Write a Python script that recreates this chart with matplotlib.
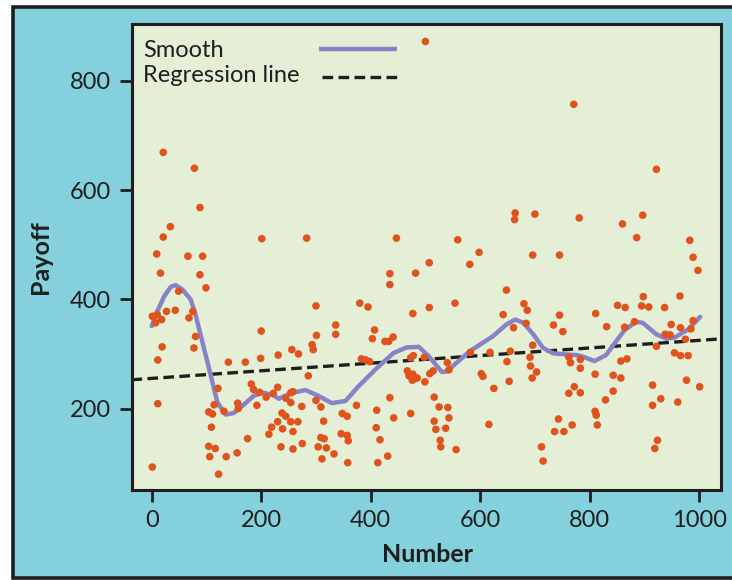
import matplotlib
matplotlib.use("Agg")
import matplotlib.pyplot as plt
from matplotlib.patches import Rectangle
from matplotlib.lines import Line2D
import numpy as np

# ---------------- data ----------------
number = [21, 78, 88, 34, 21, 201, 9, 66, 93, 283, 447, 500, 771, 664, 663, 700, 781, 559, 598, 696,
          745, 922, 897, 860, 886, 983, 989,
          16, 88, 99, 49, 1, 10, 27, 43, 18, 7, 75, 68, 80, 77, 19, 11, 11, 1, 200, 140, 171, 199, 231,
          121, 182, 186, 197, 209, 222, 230, 114, 104, 111, 132, 157, 158, 192, 109, 175, 104, 116, 106, 136,
          156, 122, 219, 214,
          435, 482, 435, 507, 300, 380, 395, 477, 507, 336, 336, 301, 407, 403, 441, 426, 433, 293, 295, 256,
          268, 286, 383, 391, 398, 473, 478, 498, 467, 470, 477, 481, 485, 476, 499, 245, 254, 258, 254, 274,
          300, 309, 238, 245, 230, 254, 267, 239, 258, 314, 348, 357, 374, 346, 357, 359, 309, 315, 236, 258,
          275, 304, 319, 333, 311, 358, 435, 411, 442, 473, 410, 417, 431, 413,
          581, 648, 554, 680, 686, 642, 745, 734, 751, 661, 684, 696, 582, 618, 655, 649, 691, 692, 703, 695,
          540, 543, 508, 514, 602, 605, 625, 653, 762, 772, 762, 765, 516, 525, 541, 543, 516, 519, 537, 527,
          528, 556, 616, 743, 736, 753, 768, 712, 715,
          998, 965, 898, 851, 865, 895, 908, 937, 811, 831, 864, 882, 949, 966, 989, 985, 938, 947, 975, 922,
          955, 966, 980, 857, 868, 783, 783, 810, 843, 857, 783, 843, 829, 915, 930, 915, 977, 1001, 961, 810,
          812, 814, 924, 919]
payoff = [669, 640, 568, 533, 514, 511, 483, 479, 479, 512, 512, 872, 757, 558, 546, 556, 549, 509, 486, 481,
          481, 638, 554, 538, 513, 508, 477,
          448, 445, 421, 415, 369, 372, 378, 380, 363, 357, 378, 366, 332, 311, 313, 289, 209, 93, 342, 285, 285, 292, 298,
          237, 245, 235, 230, 221, 228, 239, 207, 194, 190, 195, 210, 200, 206, 166, 145, 131, 127, 112, 112,
          119, 80, 166, 153,
          447, 448, 427, 467, 388, 393, 386, 374, 385, 353, 336, 334, 344, 328, 331, 323, 323, 317, 308, 308,
          300, 260, 291, 289, 286, 293, 297, 294, 269, 260, 263, 255, 256, 252, 249, 219, 229, 231, 211, 204,
          215, 203, 192, 186, 176, 176, 176, 163, 158, 177, 191, 186, 206, 154, 151, 141, 147, 145, 130, 126,
          136, 130, 128, 117, 108, 101, 220, 197, 183, 191, 165, 143, 113, 101,
          464, 417, 393, 392, 380, 372, 371, 353, 341, 348, 356, 316, 303, 303, 305, 286, 294, 278, 267, 256,
          284, 271, 264, 269, 264, 259, 237, 250, 228, 240, 294, 284, 221, 203, 202, 183, 177, 162, 164, 142,
          130, 125, 171, 181, 158, 158, 170, 130, 104,
          453, 406, 405, 389, 385, 388, 386, 385, 374, 350, 349, 359, 354, 348, 361, 346, 336, 335, 327, 314,
          302, 297, 297, 287, 291, 290, 274, 263, 261, 256, 229, 232, 216, 243, 218, 206, 252, 240, 212, 195,
          188, 170, 142, 127]

smooth_x = [0, 10, 23, 35, 44, 56, 71, 80, 93, 108, 120, 135, 150, 169, 187, 205, 223, 232, 256, 281,
            305, 329, 354, 378, 409, 442, 466, 488, 506, 530, 539, 557, 581, 624, 648, 664, 679, 697, 715, 734,
            758, 776, 785, 809, 830, 846, 864, 885, 897, 922, 940, 955, 980, 1002]
smooth_y = [351, 378, 406, 423, 426, 418, 400, 372, 320, 260, 211, 189, 192, 208, 224, 229, 224, 218, 229, 234,
            223, 210, 214, 241, 272, 302, 312, 313, 296, 267, 268, 284, 305, 333, 354, 363, 357, 336, 311, 301,
            299, 298, 296, 287, 298, 320, 344, 359, 357, 336, 328, 330, 345, 368]

reg_intercept = 255.3
reg_slope = 0.0696

x_ticks = [0, 200, 400, 600, 800, 1000]
y_ticks = [200, 400, 600, 800]
legend_labels = ["Smooth", "Regression line"]
x_label = "Number"
y_label = "Payoff"

# ---------------- styling ----------------
W, H = 732, 580
CYAN = "#84d1dd"
PANEL = "#e4efd6"
DOT = "#e0531d"
SMOOTH = "#8783c6"
INK = "#1e1e1e"
FONT = "Lato"

plt.rcParams["font.family"] = [FONT, "DejaVu Sans"]

fig = plt.figure(figsize=(W / 100, H / 100), dpi=100)
fig.patch.set_facecolor("white")

# outer cyan frame with black border (cut at right edge)
frame = Rectangle((12.5 / W, 2.5 / H), 1.2, (573.5 - 2.5) / H,
                  transform=fig.transFigure, facecolor=CYAN,
                  edgecolor=INK, linewidth=2.6, zorder=-10)
fig.patches.append(frame)

ax = fig.add_axes([131.5 / W, (580 - 490) / H, (721 - 131.5) / W, (490 - 24) / H])
ax.set_zorder(5)
ax.set_facecolor(PANEL)
ax.set_xlim(-37, 1040)
ax.set_ylim(51, 904)

xs = np.array(ax.get_xlim())
ax.plot(xs, reg_intercept + reg_slope * xs, color=INK, lw=2.4, dashes=(3.2, 1.6), zorder=2)
ax.plot(smooth_x, smooth_y, color=SMOOTH, lw=3.2, zorder=3,
        solid_joinstyle="round", solid_capstyle="round")
ax.scatter(number, payoff, s=30, color=DOT, edgecolors="none", zorder=4)

ax.set_xticks(x_ticks)
ax.set_yticks(y_ticks)
ax.tick_params(direction="out", length=8.5, width=2.0, colors=INK, labelsize=17, pad=6)
for sp in ax.spines.values():
    sp.set_linewidth(2.2)
    sp.set_color(INK)

fig.text(428 / W, 1 - 554 / H, x_label, ha="center", va="center",
         fontsize=18, fontweight="bold", color=INK, zorder=6)
fig.text(41 / W, 1 - 257 / H, y_label, ha="center", va="center", rotation=90,
         fontsize=18, fontweight="bold", color=INK, zorder=6)

# legend (drawn manually, on top of the panel)
fig.text(143 / W, 1 - 57 / H, legend_labels[0], ha="left", va="baseline", fontsize=17, color=INK, zorder=10)
fig.text(143 / W, 1 - 82.5 / H, legend_labels[1], ha="left", va="baseline", fontsize=17, color=INK, zorder=10)
l1 = Line2D([319 / W, 397 / W], [1 - 49.3 / H, 1 - 49.3 / H], transform=fig.transFigure,
            color=SMOOTH, lw=3.2, solid_capstyle="butt", zorder=10)
l2 = Line2D([322 / W, 397 / W], [1 - 77.3 / H, 1 - 77.3 / H], transform=fig.transFigure,
            color=INK, lw=2.4, dashes=(3.2, 1.6), zorder=10)
fig.add_artist(l1)
fig.add_artist(l2)

fig.savefig("out.png", dpi=100, facecolor=fig.get_facecolor())
